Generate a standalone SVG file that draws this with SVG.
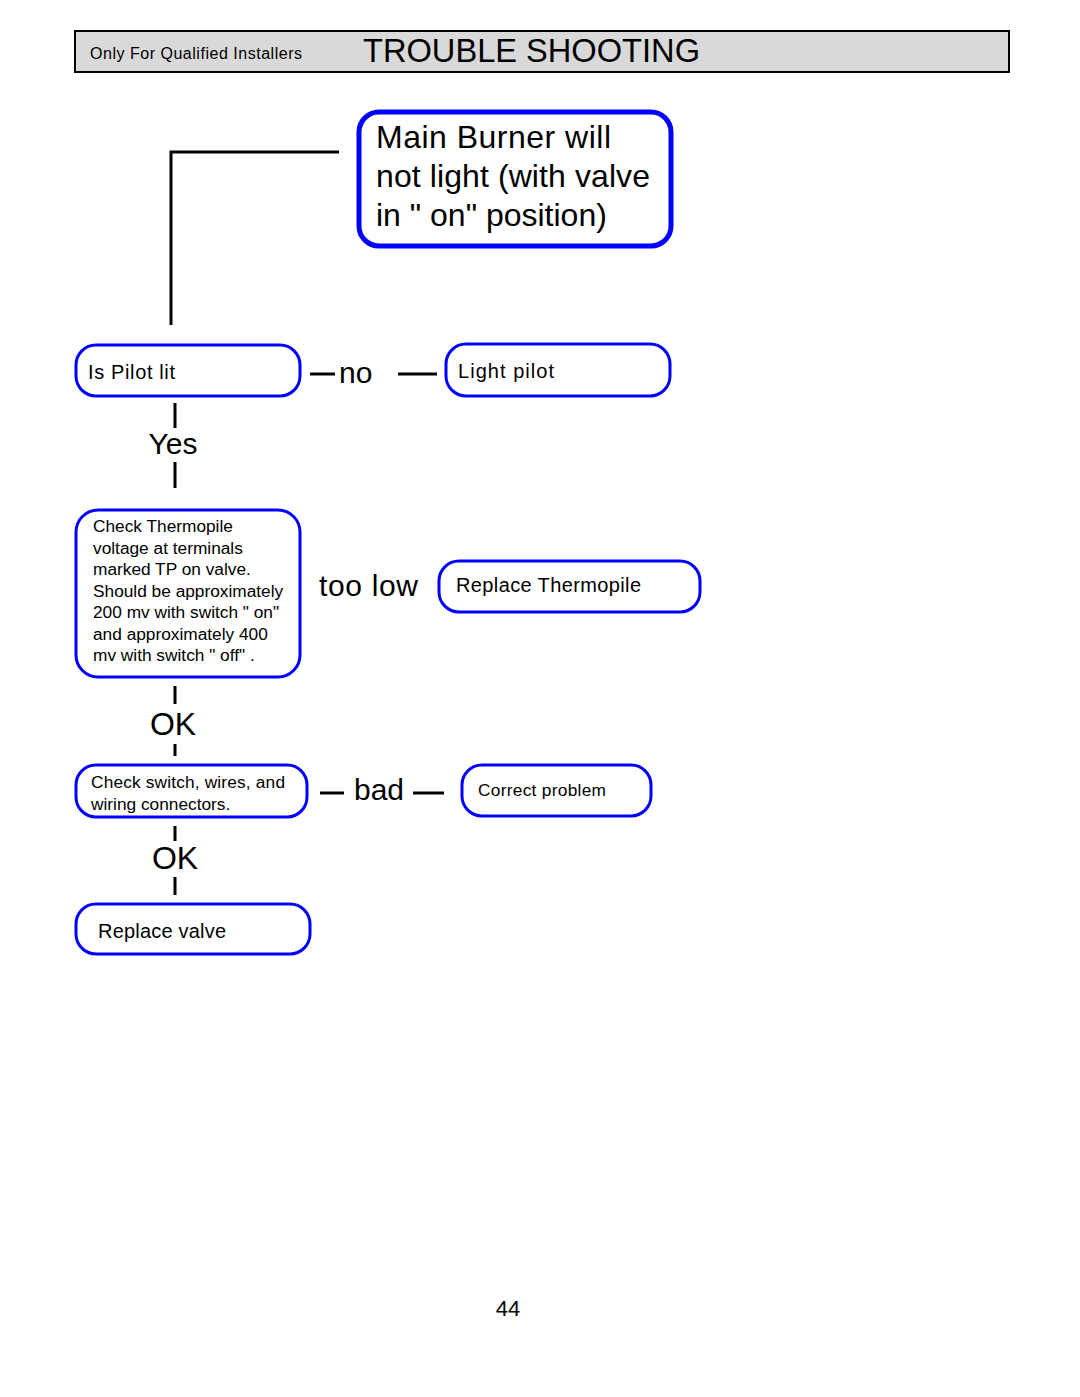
<svg xmlns="http://www.w3.org/2000/svg" width="1080" height="1397" viewBox="0 0 1080 1397">
<style>
text{font-family:"Liberation Sans",Arial,sans-serif;fill:#000}
.box{fill:#fff;stroke:#0000ff;stroke-width:3}
.main{fill:#fff;stroke:#0000ff;stroke-width:5}
.ln{stroke:#000;stroke-width:3;fill:none}
.lbl{font-size:30px}
.t20{font-size:20px}
.t17{font-size:17.3px}
</style>
<rect width="1080" height="1397" fill="#fff"/>
<g id="header">
<rect x="75" y="31" width="934" height="41" fill="#d9d9d9" stroke="#000" stroke-width="2"/>
<text x="90" y="59" font-size="16" textLength="212" lengthAdjust="spacing">Only For Qualified Installers</text>
<text x="363" y="62" font-size="33" textLength="337" lengthAdjust="spacingAndGlyphs">TROUBLE SHOOTING</text>
</g>
<g id="connectors">
<polyline class="ln" points="339,152 171,152 171,325"/>
<line class="ln" x1="310" y1="374" x2="335" y2="374"/>
<line class="ln" x1="398" y1="374" x2="437" y2="374"/>
<line class="ln" x1="175" y1="403" x2="175" y2="428"/>
<line class="ln" x1="175" y1="462" x2="175" y2="488"/>
<line class="ln" x1="175" y1="686" x2="175" y2="704"/>
<line class="ln" x1="175" y1="744" x2="175" y2="756"/>
<line class="ln" x1="320" y1="793" x2="344" y2="793"/>
<line class="ln" x1="413" y1="793" x2="444" y2="793"/>
<line class="ln" x1="175" y1="826" x2="175" y2="841"/>
<line class="ln" x1="175" y1="877" x2="175" y2="895"/>
<text class="lbl" x="339" y="383">no</text>
<text class="lbl" x="173" y="454" text-anchor="middle">Yes</text>
<text class="lbl" x="319" y="596" textLength="99" lengthAdjust="spacing">too low</text>
<text x="173" y="735" font-size="32" text-anchor="middle">OK</text>
<text class="lbl" x="354" y="800">bad</text>
<text x="175" y="869" font-size="32" text-anchor="middle">OK</text>
</g>
<g id="main-burner">
<rect class="main" x="359" y="112" width="312" height="134" rx="20"/>
<text x="376" y="148" font-size="32" textLength="235" lengthAdjust="spacing">Main Burner will</text>
<text x="376" y="187" font-size="32" textLength="274" lengthAdjust="spacing">not light (with valve</text>
<text x="376" y="226" font-size="32">in " on"  position)</text>
</g>
<g id="is-pilot-lit">
<rect class="box" x="76" y="345" width="224" height="51" rx="20"/>
<text class="t20" x="88" y="379" textLength="87" lengthAdjust="spacing">Is Pilot lit</text>
</g>
<g id="light-pilot">
<rect class="box" x="446" y="344" width="224" height="52" rx="20"/>
<text class="t20" x="458" y="378" textLength="96" lengthAdjust="spacing">Light pilot</text>
</g>
<g id="check-thermopile">
<rect class="box" x="76" y="510" width="224" height="167" rx="22"/>
<text class="t17" x="93" y="532">Check  Thermopile</text>
<text class="t17" x="93" y="554">voltage at terminals</text>
<text class="t17" x="93" y="575">marked TP on valve.</text>
<text class="t17" x="93" y="597">Should be approximately</text>
<text class="t17" x="93" y="618">200 mv with switch " on"</text>
<text class="t17" x="93" y="640">and approximately 400</text>
<text class="t17" x="93" y="661">mv with switch " off" .</text>
</g>
<g id="replace-thermopile">
<rect class="box" x="439" y="561" width="261" height="51" rx="20"/>
<text class="t20" x="456" y="592" textLength="185" lengthAdjust="spacing">Replace Thermopile</text>
</g>
<g id="check-switch">
<rect class="box" x="76" y="765" width="231" height="52" rx="20"/>
<text class="t17" x="91" y="788" textLength="194" lengthAdjust="spacing">Check  switch, wires, and</text>
<text class="t17" x="91" y="810">wiring connectors.</text>
</g>
<g id="correct-problem">
<rect class="box" x="462" y="765" width="189" height="51" rx="20"/>
<text class="t17" x="478" y="796" textLength="128" lengthAdjust="spacing">Correct  problem</text>
</g>
<g id="replace-valve">
<rect class="box" x="76" y="904" width="234" height="50" rx="20"/>
<text class="t20" x="98" y="938" textLength="128" lengthAdjust="spacing">Replace valve</text>
</g>
<text x="508" y="1316" font-size="22" text-anchor="middle">44</text>
</svg>
